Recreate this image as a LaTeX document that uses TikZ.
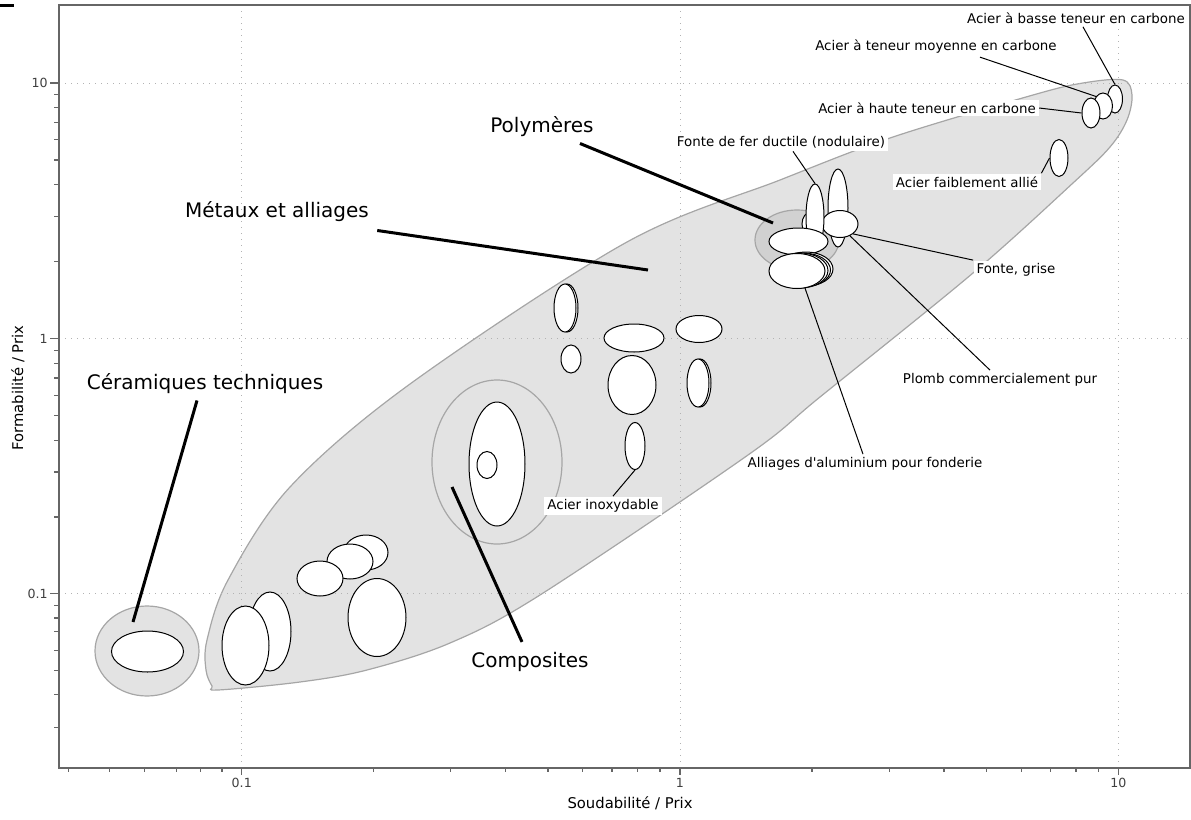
\documentclass[tikz,border=0pt]{standalone}
\usepackage{fontspec}
\setmainfont{DejaVu Sans}
\usetikzlibrary{shapes.geometric,calc}

\begin{document}
\begin{tikzpicture}[
  x=0.5pt, y=-0.5pt, font=\fontsize{6.7}{8}\selectfont,
  plotframe/.style ={draw=black!60,line width=1pt},
  gline/.style     ={draw=black!30,line width=0.5pt,dash pattern=on 0.5pt off 2.5pt},
  tck/.style       ={draw=black!60,line width=0.6pt},
  zone/.style      ={draw=black!35,fill=black!11,line width=0.6pt},
  bub/.style       ={ellipse,zone,inner sep=0},
  ell/.style       ={ellipse,draw,fill=white,inner sep=0,line width=0.5pt},
  el/.style 2 args ={ell,minimum width=#1pt,minimum height=#2pt},
  lbl/.style       ={inner sep=1.5pt,fill=white},
  txt/.style       ={inner sep=1.5pt},
  big/.style       ={font=\fontsize{10}{12}\selectfont,inner sep=3pt},
  ldr/.style       ={draw,line width=0.5pt},
  ldrb/.style      ={draw,line width=1.5pt},
  ax/.style        ={font=\fontsize{7.4}{9}\selectfont,inner sep=1pt},
  num/.style       ={font=\fontsize{6.3}{8}\selectfont,text=black!75,inner sep=1pt},
]
\useasboundingbox (0,0) rectangle (1191,820);
\fill (0,3.5) rectangle (14,6.5);

% ------------------------------------------------------------ material zones
% metals and alloys: one long envelope, lower left to upper right
\draw[zone] plot[smooth cycle,tension=0.55] coordinates {
  (218,690) (300,682) (367,670) (450,643) (540,595) (748,455) (820,397)
  (973,273) (1073,183) (1110,147) (1127,120) (1132,95) (1123,80) (1083,83)
  (1033,95) (893,137) (780,180) (627,242) (410,384) (290,487) (228,580)
  (207,640) (206,670) (212,686)};
\node[bub,minimum width=42pt,minimum height=30pt,fill=black!18] (polb) at (797,240) {};
\node[bub,minimum width=65pt,minimum height=82pt] (compb) at (497,462) {};
\node[bub,minimum width=52pt,minimum height=45pt] (cerb) at (147,651) {};

% ------------------------------------------------------------ grid and axes
\foreach \v in {0.1,1,10} {
  \pgfmathsetmacro\xt{680+438.5*log10(\v)}
  \pgfmathsetmacro\yt{338.5-255.5*log10(\v)}
  \draw[gline] (\xt,5) -- (\xt,768);
  \draw[gline] (59,\yt) -- (1190,\yt);
}
\draw[plotframe] (59,5) rectangle (1190,768);

% log ticks: 438.5 px per decade across, 255.5 px per decade up
\foreach \v in {0.04,0.05,0.06,0.07,0.08,0.09,0.2,0.3,0.4,0.5,0.6,0.7,0.8,0.9,2,3,4,5,6,7,8,9} {
  \pgfmathsetmacro\xt{680+438.5*log10(\v)}
  \draw[tck] (\xt,768) -- (\xt,772);
}
\foreach \v in {0.03,0.04,0.05,0.06,0.07,0.08,0.09,0.2,0.3,0.4,0.5,0.6,0.7,0.8,0.9,2,3,4,5,6,7,8,9} {
  \pgfmathsetmacro\yt{338.5-255.5*log10(\v)}
  \draw[tck] (54,\yt) -- (59,\yt);
}
\foreach \v [count=\i] in {0.1,1,10} {
  \pgfmathsetmacro\xt{680+438.5*log10(\v)}
  \pgfmathsetmacro\yt{338.5-255.5*log10(\v)}
  \draw[tck] (\xt,768) -- (\xt,775);
  \draw[tck] (50,\yt) -- (59,\yt);
  \node[num] (nx\i) at (\xt,783) {\v};
  \node[num,anchor=east] (ny\i) at (50,\yt) {\v};
}
\node[ax] (xlab) at (630,803) {Soudabilité / Prix};
\node[ax,rotate=90] (ylab) at (18,388) {Formabilité / Prix};

% ------------------------------------------------------------ materials
% name/x/y/rx/ry, back to front
\foreach \n/\x/\y/\a/\b in {
    cer1/147.5/651.5/36/20.5,
    comp1/497/464/28/62, comp2/487/465/10/13.5,
    m1/270/631.5/21/39.5, m2/245.5/645.5/23.5/39.5,
    m3/366/552.5/22/17.5, m4/350/561.5/23/17.5, m5/320/578.5/23/17.5,
    m6/377/617.5/29/39,
    m7/567/308/11/24, m8/565/308/11/24, m9/571/359/10/14,
    m10/634/338/30/14, m11/699/329/23/13.5, m12/632/385/24/29.5,
    m13/700/383/11/24, m14/698/383/11/24, inox/635/446/10/23.5,
    p0/811/224/9/12, t2/838/208/10/39, hr/840/224/18/13.5,
    t1/815/217/9/33, hl/798.5/241.5/29.5/13.5,
    st3/806/269/27/17, st2/803/270/27.5/17, st1/800/270.5/28/17.5,
    st0/797/271/28/17.5,
    sb/1115/99/7.5/14, sm/1103/106/9.5/13, sh/1091/113/9/15,
    sf/1059/158/9/18.5}
  \node[el={\a}{\b}] (\n) at (\x,\y) {};

% ------------------------------------------------------------ labels
\node[big] (lcer)  at (205,384) {Céramiques techniques};
\node[big] (lmet)  at (277,212) {Métaux et alliages};
\node[big] (lpol)  at (542,127) {Polymères};
\node[big] (lcomp) at (530,662) {Composites};

\coordinate (pcer)  at (133,622);
\coordinate (pmet)  at (648,270);
\coordinate (ppol)  at (773,223);
\coordinate (pcomp) at (452,487);
\draw[ldrb] ($(lcer.south)+(-8,0)$) -- (pcer);
\draw[ldrb] ($(lmet.south east)+(2,2)$) -- (pmet);
\draw[ldrb] ($(lpol.south)+(38,0)$) -- (ppol);
\draw[ldrb] (pcomp) -- ($(lcomp.north)+(-8,-4)$);

\node[lbl] (lbasse)   at (1076,18)  {Acier à basse teneur en carbone};
\node[lbl] (lmoy)     at (936,47)   {Acier à teneur moyenne en carbone};
\node[lbl] (lhaute)   at (927,108)  {Acier à haute teneur en carbone};
\node[lbl] (lductile) at (781,142)  {Fonte de fer ductile (nodulaire)};
\node[lbl] (lfaible)  at (967,182)  {Acier faiblement allié};
\node[lbl] (lgrise)   at (1016,270) {Fonte, grise};
\node[txt] (lplomb)   at (1000,380) {Plomb commercialement pur};
\node[txt] (lalu)     at (865,464)  {Alliages d\textquotesingle aluminium pour fonderie};
\node[lbl] (linox)    at (603,506)  {Acier inoxydable};

\draw[ldr] ($(lbasse.south)+(7,0)$) -- (sb.north);
\draw[ldr] ($(lmoy.south)+(44,0)$) -- (sm.north west);
\draw[ldr] (lhaute.east) -- (sh.west);
\draw[ldr] (lfaible.north east) -- (sf.west);
\draw[ldr] ($(lductile.south)+(12,0)$) -- (t1.north);
\draw[ldr] (lgrise.north west) -- (hr.south east);
\draw[ldr] ($(lplomb.north)+(-10,0)$) -- (hr.-50);
\draw[ldr] ($(lalu.north)+(-2,0)$) -- (st0.-65);
\draw[ldr] ($(linox.north)+(10,0)$) -- (inox.south);

\end{tikzpicture}
\end{document}
